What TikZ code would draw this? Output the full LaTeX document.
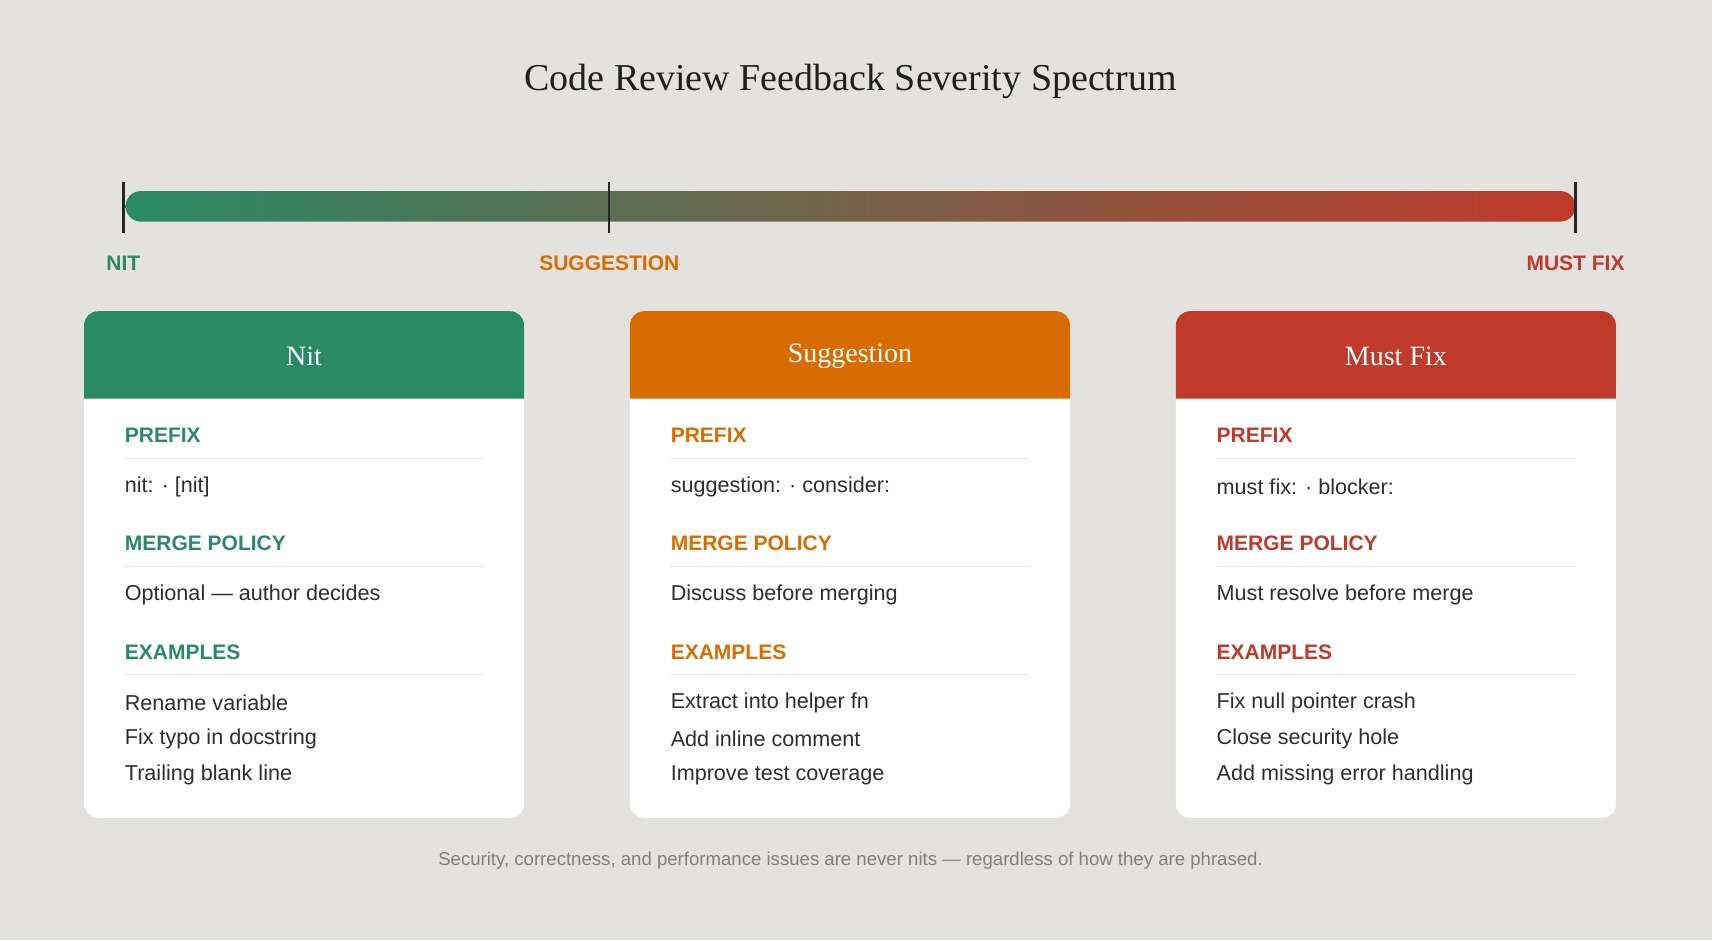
\documentclass[tikz,border=0pt]{standalone}
\usepackage{fontspec}
\setmainfont{Liberation Serif}
\setsansfont{Liberation Sans}
\begin{document}
\begin{tikzpicture}[x=0.546pt,y=-0.546pt,
  lbl/.style={font=\sffamily\bfseries\fontsize{10.5}{12}\selectfont,anchor=west,inner sep=0},
  body/.style={font=\sffamily\fontsize{10.8}{13}\selectfont,text=black!82,anchor=west,inner sep=0},
  tick/.style={line width=1.2pt,black!85}]
\definecolor{bg}{HTML}{E4E2DE}
\definecolor{cg}{HTML}{2A8A66}
\definecolor{co}{HTML}{D96C00}
\definecolor{cr}{HTML}{C0392B}
\fill[bg] (0,0) rectangle (1568,861);
\useasboundingbox (0,0) rectangle (1568,861);
\node[font=\fontsize{19}{22}\selectfont,text=black!88] (title) at (779,75) {Code Review Feedback Severity Spectrum};
\shade[left color=cg,middle color=co,right color=cr,rounded corners=14pt*0.546/1] (115,175) rectangle (1443,203);
\coordinate (t1a) at (113,167); \coordinate (t1b) at (113,213);
\coordinate (t2a) at (558,167); \coordinate (t2b) at (558,213);
\coordinate (t3a) at (1443,167); \coordinate (t3b) at (1443,213);
\draw[tick] (t1a)--(t1b); \draw[tick] (t2a)--(t2b); \draw[tick] (t3a)--(t3b);
\node[lbl,anchor=center,text=cg] (lnit) at (113,241) {NIT};
\node[lbl,anchor=center,text=co] (lsug) at (558,241) {SUGGESTION};
\node[lbl,anchor=center,text=cr] (lmf) at (1443,241) {MUST FIX};
\foreach \xo/\c/\name/\pre/\mp/\ea/\eb/\ec in {
 77/cg/Nit/{nit: · [nit]}/{Optional — author decides}/{Rename variable}/{Fix typo in docstring}/{Trailing blank line},
 577/co/Suggestion/{suggestion: · consider:}/{Discuss before merging}/{Extract into helper fn}/{Add inline comment}/{Improve test coverage},
 1077/cr/Must Fix/{must fix: · blocker:}/{Must resolve before merge}/{Fix null pointer crash}/{Close security hole}/{Add missing error handling}}{
  \fill[white,rounded corners=7pt] (\xo,285) rectangle (\xo+403,749);
  \fill[\c,rounded corners=7pt] (\xo,365) -- (\xo,285) -- (\xo+403,285) [sharp corners] -- (\xo+403,365) -- cycle;
  \node[text=white,font=\fontsize{14}{16}\selectfont] (h\name) at (\xo+201.5,326) {\name};
  \node[lbl,text=\c] (p\name) at (\xo+37,399) {PREFIX};
  \draw[black!10,line width=0.6pt] (\xo+37,420) -- (\xo+366,420);
  \node[body] (pv\name) at (\xo+37,446) {\pre};
  \node[lbl,text=\c] (m\name) at (\xo+37,498) {MERGE POLICY};
  \draw[black!10,line width=0.6pt] (\xo+37,519) -- (\xo+366,519);
  \node[body] (mv\name) at (\xo+37,545) {\mp};
  \node[lbl,text=\c] (e\name) at (\xo+37,597) {EXAMPLES};
  \draw[black!10,line width=0.6pt] (\xo+37,618) -- (\xo+366,618);
  \node[body] (ea\name) at (\xo+37,644) {\ea};
  \node[body] (eb\name) at (\xo+37,677) {\eb};
  \node[body] (ec\name) at (\xo+37,710) {\ec};
}
\node[font=\sffamily\fontsize{9.3}{11}\selectfont,text=black!50] (foot) at (779,788) {Security, correctness, and performance issues are never nits — regardless of how they are phrased.};
\end{tikzpicture}
\end{document}
